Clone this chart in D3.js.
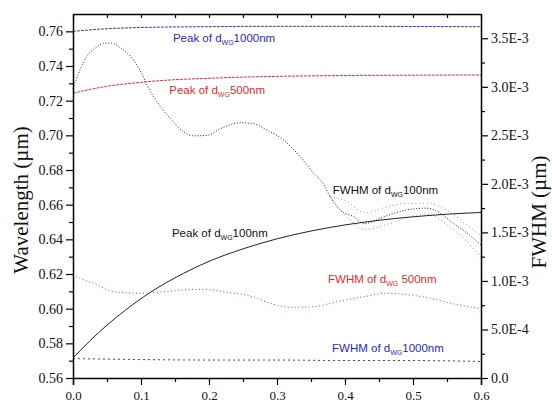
<!DOCTYPE html>
<html><head><meta charset="utf-8">
<script src="https://cdn.jsdelivr.net/npm/d3@7"></script>
<style>body{margin:0;background:#fff}svg{display:block}</style>
</head><body>
<svg id="c" width="552" height="402"></svg>
<script>
// ---- data ----
const peak1000X = [0, 0.05, 0.1, 0.2, 0.3, 0.4, 0.5, 0.6];
const peak1000Y = [0.7600, 0.7615, 0.7622, 0.7627, 0.7629, 0.7629, 0.7628, 0.7627];

const peak500X = [0, 0.05, 0.1, 0.15, 0.2, 0.25, 0.3, 0.35, 0.4, 0.5, 0.6];
const peak500Y = [0.7243, 0.7283, 0.7306, 0.7321, 0.7329, 0.7336, 0.7340, 0.7343, 0.7345, 0.7347, 0.7348];

const peak100X = [0, 0.025, 0.05, 0.075, 0.1, 0.125, 0.15, 0.175, 0.2, 0.25, 0.3, 0.35, 0.4, 0.45, 0.5, 0.55, 0.6];
const peak100Y = [0.5715, 0.5815, 0.5905, 0.5985, 0.6058, 0.6122, 0.6178, 0.6228, 0.6273, 0.6345, 0.6403, 0.6448, 0.6483, 0.651, 0.653, 0.6545, 0.6555];

const fwhm100X = [0, 0.01, 0.02, 0.035, 0.045, 0.057, 0.07, 0.085, 0.1, 0.11, 0.123, 0.143, 0.162, 0.177, 0.197, 0.217, 0.246, 0.266, 0.285, 0.31, 0.334, 0.354, 0.369, 0.378, 0.393, 0.413, 0.428, 0.457, 0.49, 0.52, 0.54, 0.56, 0.58, 0.6];
const fwhm100Y = [2.98e-3, 3.17e-3, 3.31e-3, 3.41e-3, 3.45e-3, 3.45e-3, 3.40e-3, 3.31e-3, 3.15e-3, 3.00e-3, 2.85e-3, 2.675e-3, 2.54e-3, 2.495e-3, 2.50e-3, 2.57e-3, 2.63e-3, 2.62e-3, 2.555e-3, 2.45e-3, 2.28e-3, 2.11e-3, 1.99e-3, 1.87e-3, 1.73e-3, 1.66e-3, 1.59e-3, 1.66e-3, 1.73e-3, 1.75e-3, 1.70e-3, 1.59e-3, 1.49e-3, 1.37e-3];
// spread of the scattered FWHM points (100 nm) in the noisy region
const fwhm100BandX = [0.378, 0.40, 0.43, 0.46, 0.49, 0.52, 0.55, 0.58, 0.6];
const fwhm100UpperY = [1.87e-3, 1.83e-3, 1.70e-3, 1.76e-3, 1.80e-3, 1.80e-3, 1.73e-3, 1.57e-3, 1.47e-3];
const fwhm100LowerY = [1.87e-3, 1.68e-3, 1.53e-3, 1.58e-3, 1.65e-3, 1.69e-3, 1.58e-3, 1.40e-3, 1.24e-3];

const fwhm500X = [0, 0.01, 0.03, 0.06, 0.094, 0.123, 0.162, 0.192, 0.226, 0.261, 0.29, 0.32, 0.354, 0.388, 0.428, 0.462, 0.496, 0.526, 0.555, 0.6];
const fwhm500Y = [1.06e-3, 1.027e-3, 0.976e-3, 0.889e-3, 0.873e-3, 0.883e-3, 0.907e-3, 0.914e-3, 0.883e-3, 0.845e-3, 0.770e-3, 0.728e-3, 0.735e-3, 0.786e-3, 0.838e-3, 0.873e-3, 0.855e-3, 0.821e-3, 0.770e-3, 0.715e-3];

const fwhm1000X = [0, 0.1, 0.2, 0.3, 0.4, 0.5, 0.6];
const fwhm1000Y = [2.0e-4, 1.9e-4, 1.85e-4, 1.85e-4, 1.8e-4, 1.8e-4, 1.7e-4];

const xTicks = [0, 0.1, 0.2, 0.3, 0.4, 0.5, 0.6];
const leftTicks = [0.56, 0.58, 0.60, 0.62, 0.64, 0.66, 0.68, 0.70, 0.72, 0.74, 0.76];
const rightTicks = [0, 5e-4, 1e-3, 1.5e-3, 2e-3, 2.5e-3, 3e-3, 3.5e-3];
const rightLabels = ["0.0", "5.0E-4", "1.0E-3", "1.5E-3", "2.0E-3", "2.5E-3", "3.0E-3", "3.5E-3"];

const labels = [
  {pre: "Peak of d", sub: "WG", post: "1000nm", color: "#2a2ac8", x: 0.147, axis: "L", v: 0.7539},
  {pre: "Peak of d", sub: "WG", post: "500nm", color: "#e02a2a", x: 0.1415, axis: "L", v: 0.7239},
  {pre: "FWHM of d", sub: "WG", post: "100nm", color: "#111", x: 0.382, axis: "R", v: 1.896e-3},
  {pre: "Peak of d", sub: "WG", post: "100nm", color: "#111", x: 0.1455, axis: "L", v: 0.6414},
  {pre: "FWHM of d", sub: "WG", post: " 500nm", color: "#e02a2a", x: 0.375, axis: "R", v: 0.979e-3},
  {pre: "FWHM of d", sub: "WG", post: "1000nm", color: "#2a2ac8", x: 0.381, axis: "R", v: 0.268e-3}
];

// ---- scales ----
const svg = d3.select("#c");
const x = d3.scaleLinear().domain([0, 0.6]).range([73, 481]);
const yL = d3.scaleLinear().domain([0.56, 0.77]).range([378, 14]);
const yR = d3.scaleLinear().domain([0, 0.00375]).range([378, 14]);

const serif = "'Liberation Serif','Times New Roman',serif";
const sans = "'Liberation Sans',Arial,sans-serif";

function series(xs, ys, y, color, dash, w, op) {
  const pts = xs.map((d, i) => [d, ys[i]]);
  svg.append("path").datum(pts)
    .attr("fill", "none").attr("stroke", color).attr("stroke-width", w)
    .attr("stroke-dasharray", dash).attr("opacity", op || 1)
    .attr("d", d3.line().curve(d3.curveMonotoneX).x(d => x(d[0])).y(d => y(d[1])));
}

series(peak1000X, peak1000Y, yL, "#3a3ad0", "3,1", 1);
series(peak500X, peak500Y, yL, "#e03434", "3,1", 1);
series(peak100X, peak100Y, yL, "#222", null, 1);
series(fwhm100X, fwhm100Y, yR, "#222", "1,1.8", 1);
series(fwhm100BandX, fwhm100UpperY, yR, "#444", "0.8,3", 1, 0.7);
series(fwhm100BandX, fwhm100LowerY, yR, "#444", "0.8,3", 1, 0.7);
series(fwhm500X, fwhm500Y, yR, "#e03434", "1,2.5", 1);
series(fwhm1000X, fwhm1000Y, yR, "#3a3ad0", "2,3", 1);

// ---- axes ----
function styleAxis(g, size) {
  g.selectAll("path.domain").attr("stroke", "#000").attr("stroke-width", 1.5);
  g.selectAll(".tick line").attr("stroke", "#000").attr("stroke-width", 1.2);
  g.selectAll("text").attr("font-family", serif).attr("font-size", size).attr("fill", "#111");
}
const minorX = d3.range(0.05, 0.6, 0.1);
const minorL = d3.range(0.57, 0.765, 0.02);
const minorR = d3.range(2.5e-4, 3.6e-3, 5e-4);

const gB = svg.append("g").attr("transform", "translate(0,378)")
  .call(d3.axisBottom(x).tickValues(xTicks).tickFormat(d3.format(".1f")).tickSize(7).tickPadding(6));
styleAxis(gB, 13);
svg.append("g").attr("transform", "translate(0,378)")
  .call(d3.axisBottom(x).tickValues(minorX).tickFormat("").tickSize(4))
  .call(g => styleAxis(g, 13)).select(".domain").remove();

const gT = svg.append("g").attr("transform", "translate(0,14)")
  .call(d3.axisBottom(x).tickValues(d3.range(0, 0.61, 0.05)).tickFormat("").tickSize(4).tickSizeOuter(0));
styleAxis(gT, 13);

const gL = svg.append("g").attr("transform", "translate(73,0)")
  .call(d3.axisLeft(yL).tickValues(leftTicks).tickFormat(d3.format(".2f")).tickSize(7).tickPadding(3).tickSizeOuter(0));
styleAxis(gL, 14);
svg.append("g").attr("transform", "translate(73,0)")
  .call(d3.axisLeft(yL).tickValues(minorL).tickFormat("").tickSize(4))
  .call(g => styleAxis(g, 13)).select(".domain").remove();

const gR = svg.append("g").attr("transform", "translate(481,0)")
  .call(d3.axisRight(yR).tickValues(rightTicks).tickFormat((d, i) => rightLabels[i]).tickSize(7).tickPadding(3).tickSizeOuter(0));
styleAxis(gR, 14);
svg.append("g").attr("transform", "translate(481,0)")
  .call(d3.axisRight(yR).tickValues(minorR).tickFormat("").tickSize(4))
  .call(g => styleAxis(g, 13)).select(".domain").remove();

// ---- axis titles ----
svg.append("text").attr("transform", "translate(28,200) rotate(-90)")
  .attr("text-anchor", "middle").attr("font-family", serif).attr("font-size", 21).attr("fill", "#111")
  .text("Wavelength (µm)");
svg.append("text").attr("transform", "translate(546,212) rotate(-90)")
  .attr("text-anchor", "middle").attr("font-family", serif).attr("font-size", 21).attr("fill", "#111")
  .text("FWHM (µm)");

// ---- annotations ----
labels.forEach(l => {
  const py = l.axis === "L" ? yL(l.v) : yR(l.v);
  const t = svg.append("text").attr("x", x(l.x)).attr("y", py)
    .attr("font-family", sans).attr("font-size", 11.5).attr("fill", l.color);
  t.append("tspan").text(l.pre);
  t.append("tspan").attr("font-size", 7).attr("dy", 3).text(l.sub);
  t.append("tspan").attr("dy", -3).text(l.post);
});
</script>
</body></html>
